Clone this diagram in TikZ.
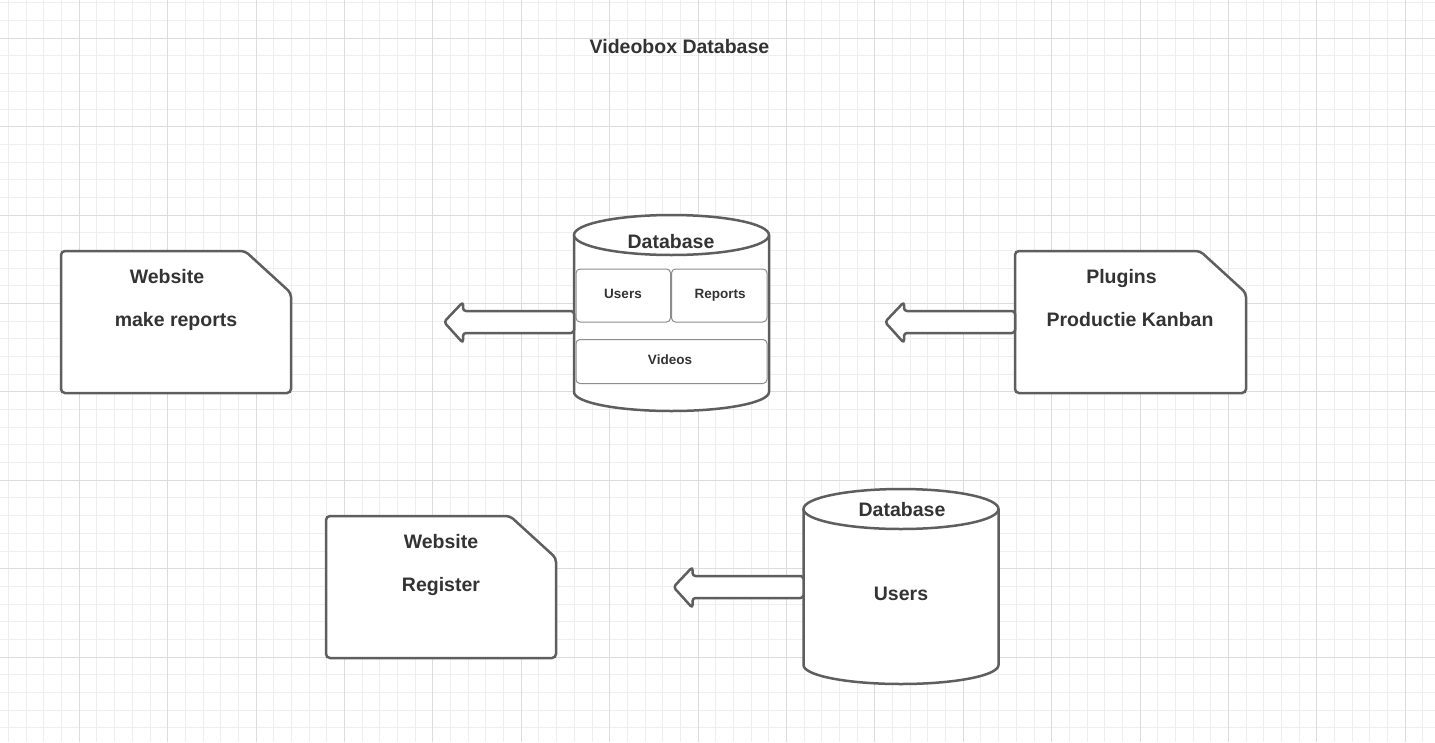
\documentclass[tikz,border=0pt]{standalone}
\usepackage{fontspec}
\setmainfont{Liberation Sans}

\definecolor{gridminor}{HTML}{EEEEEE}
\definecolor{gridmajor}{HTML}{DCDCDC}
\definecolor{shapeline}{HTML}{5E5E5E}
\definecolor{boxline}{HTML}{8C8C8C}
\definecolor{labeltext}{HTML}{333333}

\tikzset{
  minorline/.style={draw=gridminor, line width=1pt},
  majorline/.style={draw=gridmajor, line width=1pt},
  docline/.style={draw=shapeline, line width=2.5pt, fill=white, rounded corners=4pt},
  dbline/.style={draw=shapeline, line width=2.5pt, fill=white},
  tablebox/.style={draw=boxline, line width=1pt, fill=white, rounded corners=4pt},
  blockarrow/.style={draw=shapeline, line width=2.5pt, fill=white, rounded corners=3pt, line join=round},
  bigtext/.style={text=labeltext, font=\fontsize{19.5}{23}\selectfont\bfseries, inner sep=0pt, anchor=base},
  smalltext/.style={text=labeltext, font=\fontsize{13.5}{16}\selectfont\bfseries, inner sep=0pt, anchor=base},
}

\begin{document}
\begin{tikzpicture}[x=1pt, y=-1pt]
    \useasboundingbox (0,0) rectangle (1435,742);
    \fill[white] (0,0) rectangle (1435,742);

    % grid
    \foreach \i in {0,...,81}
        \draw[minorline] ({8.58+17.68*\i},0) -- ++(0,742);
    \foreach \j in {0,...,41}
        \draw[minorline] (0,{2.94+17.68*\j}) -- ++(1435,0);
    \foreach \i in {0,...,15}
        \draw[majorline] ({79.3+88.4*\i},0) -- ++(0,742);
    \foreach \j in {0,...,7}
        \draw[majorline] (0,{38.3+88.4*\j}) -- ++(1435,0);

    \node[bigtext] (title) at (679.5,53) {Videobox Database};

    % website, make reports
    \draw[docline] (61,251) -- (245,251) -- (291,293) -- (291,393) -- (61,393) -- cycle;
    \node[bigtext] (webAname) at (167,283) {Website};
    \node[bigtext] (webAtask) at (176,326) {make reports};

    % main database
    \draw[dbline] (574,235) -- (574,392) arc[start angle=180, end angle=0, x radius=97.5, y radius=19] -- (769,235);
    \draw[dbline] (671.5,235) ellipse [x radius=97.5, y radius=20];
    \draw[tablebox] (576,269) rectangle (670.5,322);
    \draw[tablebox] (671.5,269) rectangle (767,322);
    \draw[tablebox] (576,339.5) rectangle (767,383.5);
    \node[bigtext] (dbAname) at (671,248) {Database};
    \node[smalltext] (dbAusers) at (623,298.5) {Users};
    \node[smalltext] (dbAreports) at (720,298.5) {Reports};
    \node[smalltext] (dbAvideos) at (670,364.5) {Videos};

    % plugins
    \draw[docline] (1015,251) -- (1200,251) -- (1246,293) -- (1246,393) -- (1015,393) -- cycle;
    \node[bigtext] (plugname) at (1121.5,283) {Plugins};
    \node[bigtext] (plugtask) at (1130,326) {Productie Kanban};

    % website, register
    \draw[docline] (326,516) -- (510,516) -- (556,558) -- (556,658) -- (326,658) -- cycle;
    \node[bigtext] (webBname) at (441,548) {Website};
    \node[bigtext] (webBtask) at (441,591) {Register};

    % users database
    \draw[dbline] (803.5,509) -- (803.5,665) arc[start angle=180, end angle=0, x radius=97.5, y radius=19] -- (998.5,509);
    \draw[dbline] (901,509) ellipse [x radius=97.5, y radius=20];
    \node[bigtext] (dbBname) at (902,516.5) {Database};
    \node[bigtext] (dbBusers) at (901,600.5) {Users};

    % block arrows
    \coordinate (dbAout) at (574,322);
    \coordinate (plugout) at (1015,322);
    \coordinate (dbBout) at (803.5,587);
    \draw[blockarrow] (dbAout) -- ++(0,-11) -- ++(-111,0) -- ++(0,-9) -- ++(-19,20) -- ++(19,21) -- ++(0,-10) -- ++(111,0) -- cycle;
    \draw[blockarrow] (plugout) -- ++(0,-11) -- ++(-111,0) -- ++(0,-9) -- ++(-19,20) -- ++(19,21) -- ++(0,-10) -- ++(111,0) -- cycle;
    \draw[blockarrow] (dbBout) -- ++(0,-11) -- ++(-111,0) -- ++(0,-9) -- ++(-19,20) -- ++(19,21) -- ++(0,-10) -- ++(111,0) -- cycle;
\end{tikzpicture}
\end{document}
